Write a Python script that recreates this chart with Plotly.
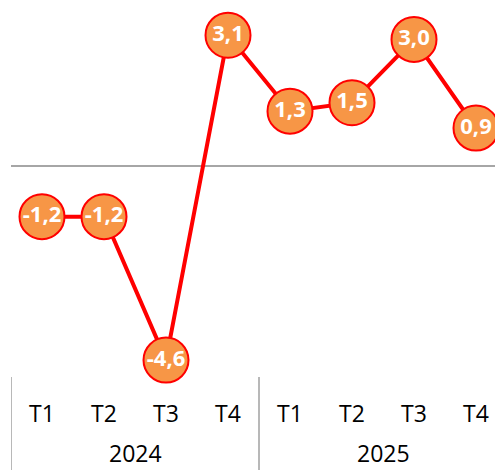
import plotly.graph_objects as go

years = ["2024", "2025"]
quarters = ["T1", "T2", "T3", "T4", "T1", "T2", "T3", "T4"]
values = [-1.2, -1.2, -4.6, 3.1, 1.3, 1.5, 3.0, 0.9]
labels = ["-1,2", "-1,2", "-4,6", "3,1", "1,3", "1,5", "3,0", "0,9"]

x = list(range(len(values)))

fig = go.Figure()
fig.add_trace(go.Scatter(
    x=x, y=values, mode="lines+markers+text",
    text=labels, textposition="middle center",
    textfont=dict(family="Open Sans", size=22, color="white", weight="bold"),
    line=dict(color="#FF0000", width=4),
    marker=dict(size=45, color="#F79646", line=dict(color="#FF0000", width=2)),
    cliponaxis=False, hoverinfo="skip", showlegend=False,
))

ppu = 42.2
zero_px = 166
plot_h = 375
ytop = zero_px / ppu
ybot = -(plot_h - zero_px) / ppu

annotations = []
for i, q in enumerate(quarters):
    annotations.append(dict(x=i, y=0, xref="x", yref="paper", text=q, showarrow=False,
                            yanchor="middle", yshift=-38,
                            font=dict(family="Open Sans", size=23, color="#000000")))
for j, yr in enumerate(years):
    annotations.append(dict(x=j * 4 + 1.5, y=0, xref="x", yref="paper", text=yr, showarrow=False,
                            yanchor="bottom", yshift=-95, borderpad=0,
                            font=dict(family="Open Sans", size=23, color="#000000")))

shapes = []
for xb in [-0.5, 3.5, 7.5]:
    shapes.append(dict(type="line", xref="x", yref="paper", x0=xb, x1=xb,
                       y0=-0.005, y1=-95 / plot_h, line=dict(color="#A0A0A0", width=1.5)))

fig.update_layout(
    width=495, height=470,
    margin=dict(l=11, r=0, t=0, b=95),
    paper_bgcolor="white", plot_bgcolor="white",
    xaxis=dict(range=[-0.5, -0.5 + 484 / 62], showgrid=False, zeroline=False,
               showticklabels=False, showline=False, fixedrange=True),
    yaxis=dict(range=[ybot, ytop], showgrid=False, zeroline=True, zerolinecolor="#A6A6A6",
               zerolinewidth=1.5, showticklabels=False, showline=False, fixedrange=True),
    annotations=annotations, shapes=shapes,
)

fig.write_html("out.html", config={"displayModeBar": False},
               post_script="document.body.style.margin='0';document.body.style.overflow='hidden';")
